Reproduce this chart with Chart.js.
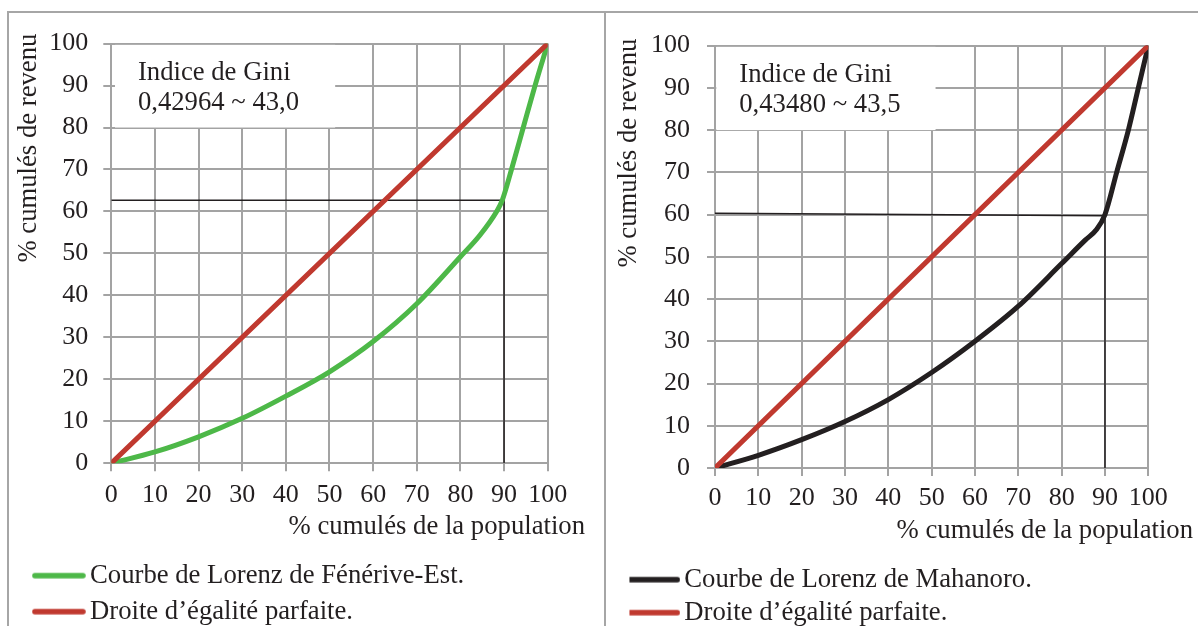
<!DOCTYPE html>
<html>
<head>
<meta charset="utf-8">
<script src="https://cdn.jsdelivr.net/npm/chart.js@4.4.1/dist/chart.umd.min.js"></script>
<style>
html,body{margin:0;padding:0;background:#fff;overflow:hidden;width:1198px;height:626px;}
.frame{position:absolute;background:#a6a6a6;}
#frameTop{left:7px;top:11px;width:1191px;height:2px;}
#frameLeft{left:7px;top:11px;width:2px;height:615px;}
#frameMid{left:604px;top:11px;width:2px;height:615px;}
#p1{position:absolute;left:8px;top:13px;width:597px;height:630px;}
#p2{position:absolute;left:607px;top:13px;width:591px;height:630px;}
</style>
</head>
<body>
<div class="frame" id="frameTop"></div>
<div class="frame" id="frameLeft"></div>
<div class="frame" id="frameMid"></div>
<div id="p1"><canvas id="c1"></canvas></div>
<div id="p2"><canvas id="c2"></canvas></div>
<script>
// ---------- DATA ----------
const axisTicks = [0, 10, 20, 30, 40, 50, 60, 70, 80, 90, 100];

const popFenerive = [0, 10, 20, 30, 40, 50, 60, 70, 80, 84.5, 88.3, 89.6, 91.7, 94.4, 97.1, 100];
const revFenerive = [0, 2.7, 6.3, 10.7, 16, 21.8, 29, 38, 49.2, 54.4, 60, 62.7, 70, 80, 90, 100];

const popMahanoro = [0, 10, 20, 30, 40, 50, 60, 70, 80, 85.5, 88, 90, 92.7, 95.4, 97.7, 100];
const revMahanoro = [0, 3, 6.7, 11, 16.2, 22.6, 30, 38.3, 48.4, 54, 56.4, 60, 70, 80, 90, 100];

const egalitePop = [0, 100];
const egaliteRev = [0, 100];

const repereFenerivePop = [0, 90, 90];
const repereFeneriveRev = [62.7, 62.7, 0];
const repereMahanoroPop = [0, 90, 90];
const repereMahanoroRev = [60.3, 59.7, 0];

const giniFenerive = ['Indice de Gini', '0,42964 ~ 43,0'];
const giniMahanoro = ['Indice de Gini', '0,43480 ~ 43,5'];

const legendFenerive = ['Courbe de Lorenz de Fénérive-Est.', 'Droite d’égalité parfaite.'];
const legendMahanoro = ['Courbe de Lorenz de Mahanoro.', 'Droite d’égalité parfaite.'];

const yTitle = '% cumulés de revenu';
const xTitle = '% cumulés de la population';

// ---------- STYLE ----------
const FONT = 'Liberation Serif';
const TXT = '#231f20';
const GRID = '#a3a3a3';
const RED = '#c0392f';
const GREEN = '#4db848';
const BLACK = '#231f20';
const TEXT_SIZE = 26.7;
const TICK_SIZE = 26;

function pts(xs, ys) { return xs.map((v, i) => ({x: v, y: ys[i]})); }

function lineSample(color) {
  const c = document.createElement('canvas');
  c.width = 54; c.height = 8;
  const g = c.getContext('2d');
  g.strokeStyle = color; g.lineWidth = 5.5; g.lineCap = 'round';
  g.beginPath(); g.moveTo(3, 4); g.lineTo(51, 4); g.stroke();
  return c;
}

function giniPlugin(cfg) {
  return {
    id: 'giniBox',
    beforeDatasetsDraw(chart) {
      const {ctx, scales} = chart;
      const x = scales.x, y = scales.y;
      const l = x.getPixelForValue(cfg.x0), r = x.getPixelForValue(cfg.x1);
      const t = y.getPixelForValue(cfg.y1), b = y.getPixelForValue(cfg.y0);
      ctx.save();
      ctx.fillStyle = '#ffffff';
      ctx.fillRect(l, t, r - l, b - t);
      ctx.fillStyle = TXT;
      ctx.font = TEXT_SIZE + 'px "' + FONT + '"';
      ctx.textAlign = 'left';
      ctx.textBaseline = 'alphabetic';
      cfg.lines.forEach((s, i) => {
        ctx.fillText(s, x.getPixelForValue(cfg.textX), y.getPixelForValue(cfg.baselines[i]));
      });
      ctx.restore();
    }
  };
}

function yTitlePlugin(cfg) {
  return {
    id: 'yTitle',
    afterDraw(chart) {
      const {ctx, chartArea, scales} = chart;
      ctx.save();
      ctx.translate(scales.y.left + cfg.offset, chartArea.top - cfg.raise);
      ctx.rotate(-Math.PI / 2);
      ctx.fillStyle = TXT;
      ctx.font = TEXT_SIZE + 'px "' + FONT + '"';
      ctx.textAlign = 'right';
      ctx.textBaseline = 'middle';
      ctx.fillText(yTitle, 0, 0);
      ctx.restore();
    }
  };
}

function makeChart(id, p) {
  const samples = [lineSample(p.curveColor), lineSample(RED)];
  return new Chart(document.getElementById(id), {
    type: 'scatter',
    data: {
      datasets: [
        { label: p.legend[0], data: pts(p.pop, p.rev), showLine: true, borderColor: p.curveColor,
          borderWidth: 5, pointRadius: 0, cubicInterpolationMode: 'monotone', order: 1,
          borderCapStyle: 'round', borderJoinStyle: 'round' },
        { label: p.legend[1], data: pts(egalitePop, egaliteRev), showLine: true, borderColor: RED,
          borderWidth: 5, pointRadius: 0, order: 0, borderCapStyle: 'round' },
        { label: 'repere', data: pts(p.refPop, p.refRev), showLine: true, borderColor: BLACK,
          borderWidth: 1.5, pointRadius: 0, tension: 0, order: 2 }
      ]
    },
    options: {
      responsive: true,
      maintainAspectRatio: false,
      animation: false,
      events: [],
      layout: { padding: p.padding },
      scales: {
        x: {
          type: 'linear', min: 0, max: 100,
          afterBuildTicks: s => { s.ticks = axisTicks.map(v => ({value: v})); },
          afterFit: s => { s.height = p.xHeight; },
          grid: { color: GRID, lineWidth: 2, tickLength: 8, drawTicks: true },
          border: { display: true, color: GRID, width: 2 },
          ticks: { font: { family: FONT, size: TICK_SIZE }, color: TXT, padding: p.xTickPad, maxRotation: 0, autoSkip: false }
        },
        y: {
          type: 'linear', min: 0, max: 100, position: 'left',
          afterBuildTicks: s => { s.ticks = axisTicks.map(v => ({value: v})); },
          afterFit: s => { s.width = p.yWidth; },
          grid: { color: GRID, lineWidth: 2, tickLength: 8, drawTicks: true },
          border: { display: true, color: GRID, width: 2 },
          ticks: { font: { family: FONT, size: TICK_SIZE }, color: TXT, padding: p.yTickPad, autoSkip: false }
        },
        y2: {
          type: 'linear', position: 'right', display: true,
          grid: { display: false }, border: { display: false }, ticks: { display: false },
          afterFit: s => { s.width = p.rightSpace; }
        }
      },
      plugins: {
        tooltip: { enabled: false },
        title: {
          display: true, text: xTitle, position: 'bottom', align: 'end', weight: 500,
          color: TXT, font: { family: FONT, size: TEXT_SIZE, weight: 'normal' },
          padding: p.titlePad
        },
        legend: {
          display: true, position: 'bottom', align: 'start',
          labels: {
            usePointStyle: true, pointStyleWidth: p.boxW, padding: p.legendPad,
            font: { family: FONT, size: TEXT_SIZE }, color: TXT,
            generateLabels: () => [0, 1].map(i => ({
              text: p.legend[i], pointStyle: samples[i], datasetIndex: i,
              hidden: false, lineWidth: 0, fillStyle: 'rgba(0,0,0,0)', strokeStyle: 'rgba(0,0,0,0)', fontColor: TXT
            }))
          }
        }
      }
    },
    plugins: [giniPlugin(p.gini), yTitlePlugin(p.yTitle)]
  });
}

makeChart('c1', {
  pop: popFenerive, rev: revFenerive, curveColor: GREEN,
  refPop: repereFenerivePop, refRev: repereFeneriveRev,
  legend: legendFenerive,
  padding: { left: 23.75, top: 30.3, right: 20, bottom: 8 },
  yWidth: 79.55, rightSpace: 37.3, xHeight: 47, xTickPad: 8.4, yTickPad: 15,
  titlePad: { top: 0.9, bottom: 9.8 }, legendPad: 9.3, boxW: 35.6,
  yTitle: { offset: 21.2 - 23.75, raise: 10 },
  gini: { lines: giniFenerive, x0: 0.85, x1: 51.3, y0: 80, y1: 99.7, textX: 6.1, baselines: [91.3, 84.1] }
});

makeChart('c2', {
  pop: popMahanoro, rev: revMahanoro, curveColor: BLACK,
  refPop: repereMahanoroPop, refRev: repereMahanoroRev,
  legend: legendMahanoro,
  padding: { left: 22.45, top: 30.6, right: 5, bottom: 7 },
  yWidth: 85.55, rightSpace: 44.7, xHeight: 45.3, xTickPad: 6.7, yTickPad: 17,
  titlePad: { top: 1.9, bottom: 12.76 }, legendPad: 6.3, boxW: 35.2,
  yTitle: { offset: 22.2 - 22.45, raise: 7 },
  gini: { lines: giniMahanoro, x0: 0.3, x1: 50.9, y0: 80, y1: 99.7, textX: 5.6, baselines: [91.4, 84.2] }
});
</script>
</body>
</html>
